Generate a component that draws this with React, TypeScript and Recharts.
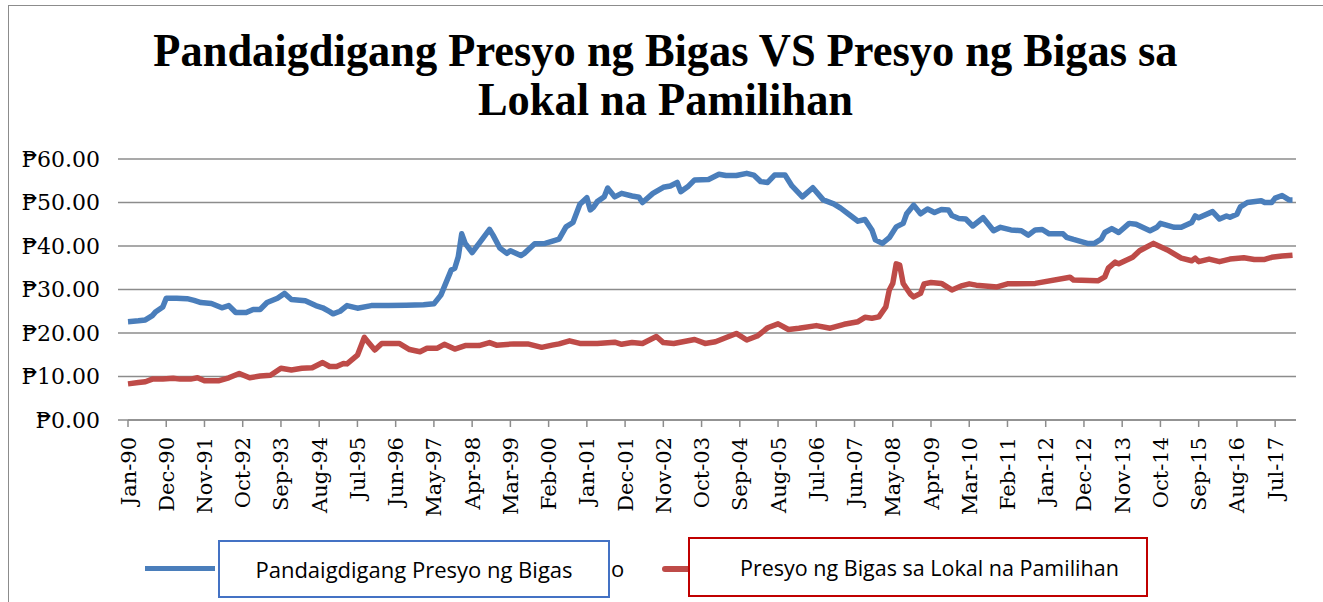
import { LineChart, Line, XAxis, YAxis, CartesianGrid } from 'recharts';

// month index (0 = Jan-90) and price in pesos
const worldPrice: [number, number][] = [
  [0, 22.6], [3, 22.8], [5, 23.0], [7, 24.0], [8, 24.9], [10, 26.0], [11, 28.0], [14, 28.0],
  [17, 27.9], [19, 27.5], [21, 27.0], [24, 26.8], [27, 25.8], [29, 26.3], [31, 24.7], [34, 24.7],
  [36, 25.4], [38, 25.4], [40, 27.0], [43, 28.0], [45, 29.1], [47, 27.7], [51, 27.4], [54, 26.3],
  [56, 25.8], [58, 24.9], [59, 24.4], [61, 25.0], [63, 26.3], [66, 25.7], [70, 26.3], [75, 26.3],
  [80, 26.4], [85, 26.5], [88, 26.7], [90, 28.7], [93, 34.5], [94, 34.9], [95, 37.5], [96, 42.8],
  [97, 40.6], [99, 38.5], [101, 40.6], [104, 43.8], [105, 42.5], [107, 39.5], [109, 38.3], [110, 38.9],
  [113, 37.8], [114, 38.3], [117, 40.5], [120, 40.6], [124, 41.6], [126, 44.4], [128, 45.4], [130, 49.6],
  [132, 51.1], [133, 48.3], [134, 49.0], [135, 50.2], [137, 51.3], [138, 53.3], [140, 51.3], [142, 52.1],
  [145, 51.5], [147, 51.2], [148, 50.0], [151, 52.1], [154, 53.5], [156, 53.8], [158, 54.6], [159, 52.5],
  [161, 53.6], [163, 55.2], [167, 55.3], [170, 56.5], [172, 56.2], [175, 56.2], [178, 56.7], [180, 56.3],
  [182, 54.8], [184, 54.6], [186, 56.3], [189, 56.3], [191, 53.8], [194, 51.3], [197, 53.4], [200, 50.6],
  [203, 49.7], [205, 48.7], [208, 46.9], [210, 45.7], [212, 46.1], [214, 43.7], [215, 41.4], [217, 40.6],
  [219, 41.9], [221, 44.4], [223, 45.2], [224, 47.4], [226, 49.4], [228, 47.4], [230, 48.5], [232, 47.7],
  [234, 48.4], [236, 48.3], [237, 47.0], [239, 46.3], [241, 46.2], [243, 44.6], [246, 46.5], [249, 43.5],
  [251, 44.3], [254, 43.7], [257, 43.5], [259, 42.5], [261, 43.7], [263, 43.8], [265, 42.8], [269, 42.8],
  [270, 42.0], [272, 41.5], [276, 40.6], [278, 40.6], [280, 41.6], [281, 43.1], [283, 44.0], [285, 43.1],
  [288, 45.2], [290, 45.0], [294, 43.5], [296, 44.3], [297, 45.2], [301, 44.3], [303, 44.3], [306, 45.4],
  [307, 46.9], [308, 46.5], [312, 47.9], [314, 46.2], [316, 46.9], [317, 46.6], [319, 47.3], [320, 49.0],
  [322, 50.0], [326, 50.4], [327, 50.0], [329, 50.0], [330, 51.0], [332, 51.6], [334, 50.6], [335, 50.6],
];

const localPrice: [number, number][] = [
  [0, 8.3], [3, 8.6], [5, 8.8], [7, 9.4], [10, 9.4], [13, 9.6], [15, 9.4], [18, 9.4],
  [20, 9.7], [22, 9.0], [26, 9.0], [29, 9.7], [32, 10.7], [35, 9.7], [38, 10.1], [41, 10.3],
  [44, 11.9], [47, 11.5], [50, 11.9], [53, 12.0], [56, 13.2], [58, 12.3], [60, 12.3], [62, 13.0],
  [63, 12.9], [66, 14.9], [68, 19.0], [69, 18.0], [71, 16.1], [73, 17.6], [78, 17.6], [81, 16.2],
  [84, 15.7], [86, 16.5], [89, 16.5], [91, 17.4], [94, 16.3], [97, 17.1], [101, 17.1], [104, 17.8],
  [106, 17.2], [111, 17.5], [115, 17.5], [119, 16.7], [122, 17.2], [124, 17.5], [127, 18.2], [130, 17.6],
  [135, 17.6], [140, 17.9], [142, 17.4], [145, 17.8], [148, 17.6], [150, 18.4], [152, 19.2], [154, 17.8],
  [157, 17.6], [163, 18.5], [166, 17.6], [169, 18.0], [175, 19.9], [178, 18.4], [181, 19.3], [184, 21.2],
  [187, 22.1], [190, 20.8], [193, 21.1], [198, 21.7], [202, 21.1], [206, 22.0], [210, 22.6], [212, 23.6],
  [214, 23.4], [216, 23.7], [218, 26.0], [219, 29.9], [220, 31.4], [221, 35.9], [222, 35.6], [223, 31.4],
  [225, 29.0], [226, 28.3], [228, 29.1], [229, 31.3], [231, 31.6], [234, 31.4], [237, 29.9], [240, 30.9],
  [242, 31.3], [244, 31.0], [250, 30.6], [253, 31.3], [261, 31.4], [271, 32.8], [272, 32.2], [279, 32.0],
  [281, 32.9], [282, 34.9], [284, 36.3], [285, 35.9], [289, 37.4], [291, 38.9], [295, 40.6], [299, 39.1],
  [303, 37.2], [306, 36.6], [307, 37.2], [308, 36.4], [311, 37.0], [314, 36.4], [317, 37.0], [321, 37.3],
  [324, 36.9], [327, 36.9], [329, 37.4], [332, 37.7], [335, 37.9],
];

const tickLabels = [
  'Jan-90', 'Dec-90', 'Nov-91', 'Oct-92', 'Sep-93', 'Aug-94', 'Jul-95', 'Jun-96', 'May-97', 'Apr-98',
  'Mar-99', 'Feb-00', 'Jan-01', 'Dec-01', 'Nov-02', 'Oct-03', 'Sep-04', 'Aug-05', 'Jul-06', 'Jun-07',
  'May-08', 'Apr-09', 'Mar-10', 'Feb-11', 'Jan-12', 'Dec-12', 'Nov-13', 'Oct-14', 'Sep-15', 'Aug-16',
  'Jul-17',
];
const tickMonths = tickLabels.map((_, i) => i * 11);
const priceTicks = [0, 10, 20, 30, 40, 50, 60];

const worldName = 'Pandaigdigang Presyo ng Bigas';
const localName = 'Presyo ng Bigas sa Lokal na Pamilihan';

const worldData = worldPrice.map(([m, v]) => ({ m, v }));
const localData = localPrice.map(([m, v]) => ({ m, v }));

const axisGray = '#8c8c8c';
const serif = '"DejaVu Serif", serif';

function MonthTick({ x, y, payload }: any) {
  const label = tickLabels[tickMonths.indexOf(payload.value)] ?? '';
  return (
    <text
      x={x}
      y={y}
      transform={`rotate(-90, ${x}, ${y})`}
      textAnchor="end"
      dy="0.36em"
      fontSize={21}
      fontFamily={serif}
      fill="#000"
    >
      {label}
    </text>
  );
}

export default function App() {
  return (
    <div style={{ position: 'absolute', left: 0, top: 0, width: 1323, height: 602, background: '#fff', overflow: 'hidden' }}>
      <div
        style={{
          position: 'absolute', left: 8, top: 5, width: 1315, height: 597,
          borderLeft: `1.5px solid ${axisGray}`, borderTop: `1.5px solid ${axisGray}`, boxSizing: 'border-box',
        }}
      />
      <div
        style={{
          position: 'absolute', left: 4, top: 26, width: 1323, textAlign: 'center',
          fontFamily: '"Liberation Serif", serif', fontWeight: 700, fontSize: 47, lineHeight: '49px', color: '#000',
          transform: 'scaleX(0.945)', transformOrigin: '661px 0',
        }}
      >
        Pandaigdigang Presyo ng Bigas VS Presyo ng Bigas sa
        <br />
        Lokal na Pamilihan
      </div>

      <LineChart width={1323} height={602} margin={{ top: 159, right: 27, left: 28, bottom: 72 }}>
        <CartesianGrid vertical={false} stroke={axisGray} strokeWidth={1.5} />
        <XAxis
          type="number"
          dataKey="m"
          domain={[0, 336]}
          ticks={tickMonths}
          interval={0}
          height={110}
          tickSize={7}
          tickMargin={10}
          stroke={axisGray}
          strokeWidth={1.5}
          tick={<MonthTick />}
        />
        <YAxis
          domain={[0, 60]}
          ticks={priceTicks}
          width={100}
          axisLine={false}
          tickSize={10}
          tickMargin={18}
          tickLine={{ stroke: axisGray, strokeWidth: 1.5 }}
          tick={{ fill: '#000', fontSize: 22, fontFamily: serif }}
          tickFormatter={(v: number) => `₱${v.toFixed(2)}`}
        />
        <Line
          data={worldData}
          dataKey="v"
          name={worldName}
          type="linear"
          stroke="#4a7ebb"
          strokeWidth={5.5}
          strokeLinejoin="round"
          dot={false}
          isAnimationActive={false}
        />
        <Line
          data={localData}
          dataKey="v"
          name={localName}
          type="linear"
          stroke="#be4b48"
          strokeWidth={5.5}
          strokeLinejoin="round"
          dot={false}
          isAnimationActive={false}
        />
      </LineChart>

      {/* legend, drawn the way the original boxed text looks */}
      <div style={{ position: 'absolute', left: 145, top: 566, width: 70, height: 5, background: '#4a7ebb' }} />
      <div
        style={{
          position: 'absolute', left: 218, top: 540, width: 392, height: 58, boxSizing: 'border-box',
          border: '2px solid #4472c4', background: '#fff', display: 'flex', alignItems: 'center', justifyContent: 'center',
          fontFamily: '"Open Sans", sans-serif', fontSize: 22, color: '#000',
        }}
      >
        {worldName}
      </div>
      <div style={{ position: 'absolute', left: 611, top: 553, fontFamily: '"Open Sans", sans-serif', fontSize: 22, color: '#000' }}>o</div>
      <div style={{ position: 'absolute', left: 662, top: 566, width: 28, height: 6, borderRadius: '3px 0 0 3px', background: '#be4b48' }} />
      <div
        style={{
          position: 'absolute', left: 688, top: 537, width: 460, height: 60, boxSizing: 'border-box',
          border: '2px solid #c00000', background: '#fff', display: 'flex', alignItems: 'center', paddingLeft: 50,
          fontFamily: '"Open Sans", sans-serif', fontSize: 21.5, color: '#000',
        }}
      >
        {localName}
      </div>
    </div>
  );
}
